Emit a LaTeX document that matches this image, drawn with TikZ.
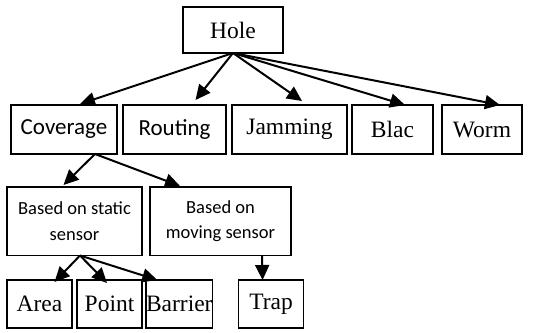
\documentclass[tikz,border=0pt]{standalone}
\usepackage{fontspec}
\setmainfont{Liberation Serif}
\newfontfamily\calibri{Carlito}
\usetikzlibrary{arrows.meta,positioning}

\begin{document}
\begin{tikzpicture}[->, >={Triangle[length=15pt,width=14pt]}, x=1pt, y=1pt, line width=2pt]
        \tikzstyle{every node}=[draw=black, line width=1.6pt, inner sep=0pt, outer sep=0pt, font=\fontsize{23.5}{26}\selectfont]
        \tikzstyle{lvlone}=[minimum height=49pt]
        \tikzstyle{lvltwo}=[minimum height=68.5pt, align=center, font=\calibri\fontsize{18.5}{25.5}\selectfont]
        \tikzstyle{leaf}=[minimum height=48pt]
        \tikzstyle{sansfont}=[font=\calibri\fontsize{23}{26}\selectfont]
        \useasboundingbox (0,0) rectangle (540,-332);
        \node                                           (Hole) at (233,-30) [minimum width=100pt, minimum height=46pt] {Hole};
        \node[lvlone, sansfont, minimum width=106pt, anchor=north west] (Coverage) at (11,-105) {Coverage};
        \node[lvlone, sansfont, minimum width=103pt, right=6pt of Coverage] (Routing) {Routing};
        \node[lvlone, minimum width=115pt, right=6pt of Routing]   (Jamming) {Jamming};
        \node[lvlone, minimum width=81pt, right=5pt of Jamming]    (Blac) {Blac};
        \node[lvlone, minimum width=80pt, right=9pt of Blac]       (Worm) {Worm};
        \node[lvltwo, minimum width=135pt, anchor=north west] (Static) at (7,-187) {Based on static\\sensor};
        \node[lvltwo, minimum width=141pt, right=8pt of Static]    (Moving) {Based on\\moving sensor};
        \node[leaf, minimum width=65pt, anchor=north west] (Area) at (7,-280) {Area};
        \node[leaf, minimum width=65pt, right=5pt of Area]         (Point) {Point};
        \node[leaf, minimum width=66pt, right=4pt of Point]        (Barrier) {Barrier};
        \node[leaf, minimum width=65pt, right=26pt of Barrier]     (Trap) {Trap};
        \path
        (Hole.south) edge ([shift={(16pt,1pt)}]Coverage.north)
            edge ([shift={(21pt,5pt)}]Routing.north)
            edge ([shift={(12.5pt,4pt)}]Jamming.north)
            edge ([xshift=12.5pt]Blac.north)
            edge ([xshift=18pt]Worm.north)
        ([xshift=31pt]Coverage.south) edge ([shift={(-11pt,2pt)}]Static.north)
            edge ([shift={(-40.5pt,1pt)}]Moving.north)
        ([xshift=5.5pt]Static.south) edge ([shift={(15pt,-2pt)}]Area.north)
            edge ([shift={(-2.5pt,-3pt)}]Point.north)
            edge ([xshift=-22pt]Barrier.north)
        ([xshift=41.5pt]Moving.south) edge ([xshift=-8.5pt]Trap.north);
\end{tikzpicture}
\end{document}
